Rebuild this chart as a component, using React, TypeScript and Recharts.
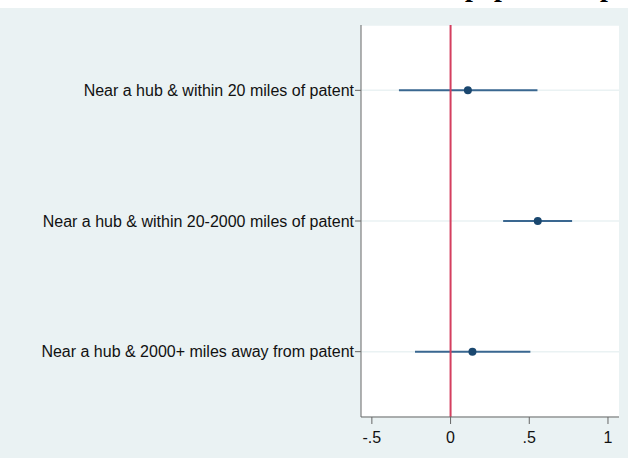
import { ScatterChart, Scatter, XAxis, YAxis, CartesianGrid, ReferenceLine, ErrorBar } from 'recharts'

const labels = [
  'Near a hub & within 20 miles of patent',
  'Near a hub & within 20-2000 miles of patent',
  'Near a hub & 2000+ miles away from patent',
]
const coef = [0.11, 0.554, 0.139]
const ciLow = [-0.328, 0.334, -0.226]
const ciHigh = [0.552, 0.772, 0.507]
const xTicks = [-0.5, 0, 0.5, 1]
const xTickLabels = ['-.5', '0', '.5', '1']

const data = coef.map((c, i) => ({
  row: i + 1,
  coef: c,
  err: [c - ciLow[i], ciHigh[i] - c],
}))

const font = '"Liberation Sans", Arial, sans-serif'

export default function App() {
  return (
    <div style={{ position: 'absolute', left: 0, top: 0, width: 628, height: 458, background: '#fff', overflow: 'hidden' }}>
      <div style={{ position: 'absolute', left: 0, top: 8, width: 628, height: 450, background: '#EAF2F3' }} />
      {/* cut-off title above the graph, only descenders show */}
      <div style={{ position: 'absolute', left: 0, top: 0, width: 628, height: 8, overflow: 'hidden' }}>
        {[465, 494, 600].map((x) => (
          <span
            key={x}
            style={{
              position: 'absolute',
              left: x,
              top: -27,
              fontFamily: '"Liberation Serif", "Times New Roman", serif',
              fontWeight: 'bold',
              fontSize: 28,
              lineHeight: '28px',
              color: '#000',
            }}
          >
            p
          </span>
        ))}
      </div>
      <div style={{ position: 'absolute', left: 0, top: 0 }}>
        <ScatterChart width={628} height={458} margin={{ top: 25, right: 9, bottom: 0, left: 0 }}>
          <CartesianGrid vertical={false} stroke="#EAF2F3" strokeWidth={1.5} fill="#fff" />
          <XAxis
            type="number"
            dataKey="coef"
            domain={[-0.569, 1.07]}
            ticks={xTicks}
            tickFormatter={(v: number) => xTickLabels[xTicks.indexOf(v)]}
            height={41}
            tickSize={7}
            tickMargin={8}
            stroke="#666"
            tick={{ fill: '#111', fontSize: 16, fontFamily: font }}
            allowDataOverflow
          />
          <YAxis
            type="number"
            dataKey="row"
            domain={[0.5, 3.5]}
            ticks={[1, 2, 3]}
            reversed
            tickFormatter={(v: number) => labels[v - 1]}
            width={361}
            tickSize={6}
            tickMargin={1}
            stroke="#666"
            tick={{ fill: '#111', fontSize: 16, fontFamily: font }}
            interval={0}
          />
          <Scatter data={data} fill="#1A476F" isAnimationActive={false} shape={(p: any) => <circle cx={p.cx} cy={p.cy} r={4} fill="#1A476F" />}>
            <ErrorBar dataKey="err" direction="x" width={0} stroke="#3A6790" strokeWidth={2} isAnimationActive={false} />
          </Scatter>
          <ReferenceLine x={0} stroke="#D43F5F" strokeWidth={2} />
        </ScatterChart>
      </div>
    </div>
  )
}
